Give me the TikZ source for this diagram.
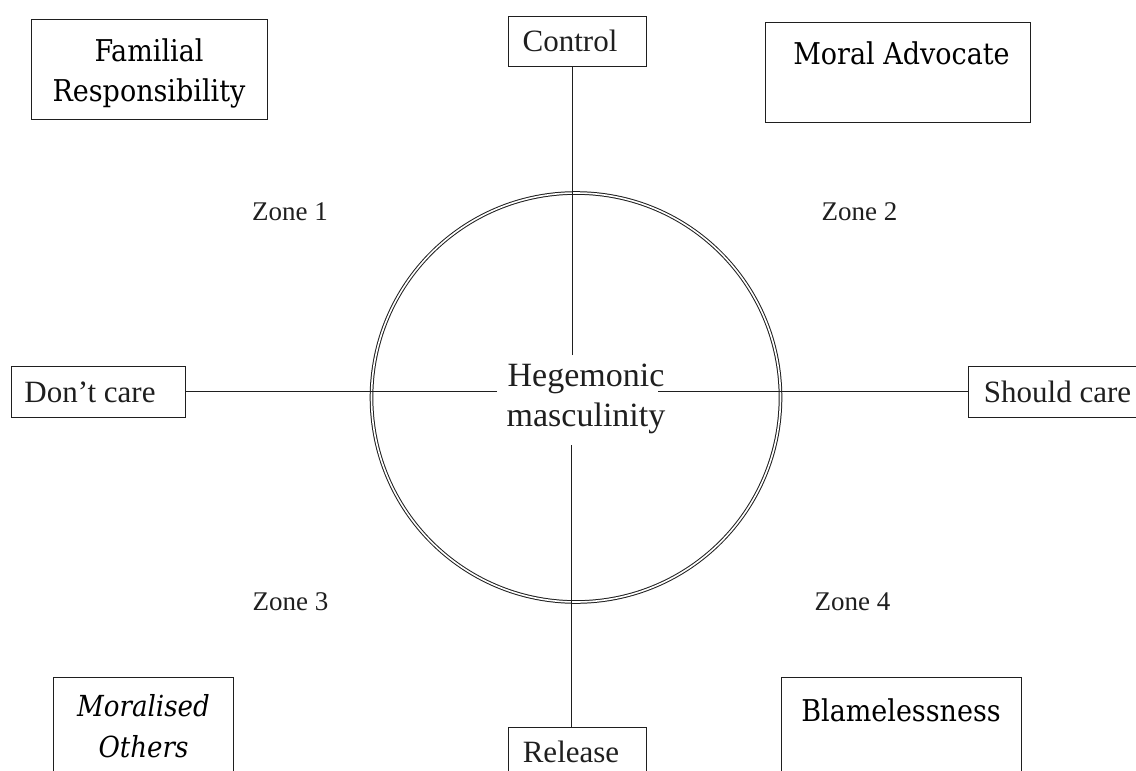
\documentclass[tikz,border=0pt]{standalone}
\usepackage{fontspec}
\setmainfont{Liberation Serif}
\newfontfamily\camfont{DejaVu Serif Condensed}
\definecolor{ink}{gray}{0.12}
\newcommand{\padr}[1]{\rule{#1}{0pt}}
\tikzset{
  box/.style={draw=ink, line width=1pt, inner sep=0pt, rectangle},
  tms/.style={font=\fontsize{31}{36}\selectfont, text=ink, text height=21pt, text depth=0pt},
  zonelbl/.style={font=\fontsize{27}{32}\selectfont, text=ink, inner sep=0pt, anchor=base},
  cam/.style={font=\camfont\fontsize{30}{40}\selectfont, text=black, inner sep=0pt},
  link/.style={draw=ink, line width=1pt},
  ring/.style={draw=ink, line width=1pt, double=white, double distance=1.6pt},
}
\begin{document}
\begin{tikzpicture}[x=1pt,y=-1pt]
\useasboundingbox[fill=white] (0,0) rectangle (1136,771);

% central circle and text
\node[ring, circle, minimum size=409pt, inner sep=0pt] (ring) at (576,397.5) {};
\node[font=\fontsize{34}{40}\selectfont, text=ink, align=center, inner sep=0pt] (hub) at (586,399) {Hegemonic\\masculinity};
\coordinate (ht) at (572,355);
\coordinate (hb) at (571,445);
\coordinate (hl) at (497,391);
\coordinate (hr) at (658,391);

% axis boxes
\node[box, tms, minimum width=138pt, minimum height=50pt] (ctl) at (577,41) {Control\padr{14pt}};
\node[box, tms, minimum width=138pt, minimum height=50pt] (rel) at (577,752) {Release\padr{12pt}};
\node[box, tms, minimum width=174pt, minimum height=51pt] (dont) at (98,391.5) {Don’t care\padr{16pt}};
\node[box, tms, minimum width=190pt, minimum height=51pt] (should) at (1063,391.5) {Should care\padr{11pt}};

% connectors
\draw[link] (ht) -- (ht |- ctl.south);
\draw[link] (hb) -- (hb |- rel.north);
\draw[link] (hl) -- (hl -| dont.east);
\draw[link] (hr) -- (hr -| should.west);

% zone labels
\node[zonelbl] (z1) at (290,220) {Zone 1};
\node[zonelbl] (z2) at (859.5,220) {Zone 2};
\node[zonelbl] (z3) at (290.5,610) {Zone 3};
\node[zonelbl] (z4) at (852.5,610) {Zone 4};

% corner boxes
\node[box, minimum width=236pt, minimum height=100pt] (fam) at (149,69) {};
\node[cam, align=center] (famtxt) at (149,73) {Familial\\Responsibility};
\node[box, minimum width=265pt, minimum height=100pt] (moral) at (897.5,72) {};
\node[cam, anchor=base] (moraltxt) at (901.5,64) {Moral Advocate};
\node[box, minimum width=180pt, minimum height=100pt] (others) at (143,727) {};
\node[cam, font=\camfont\itshape\fontsize{29}{41}\selectfont, align=center] (otherstxt) at (143.5,726) {Moralised\\Others};
\node[box, minimum width=240pt, minimum height=100pt] (blame) at (901,727) {};
\node[cam, anchor=base] (blametxt) at (901,721) {Blamelessness};
\end{tikzpicture}
\end{document}
